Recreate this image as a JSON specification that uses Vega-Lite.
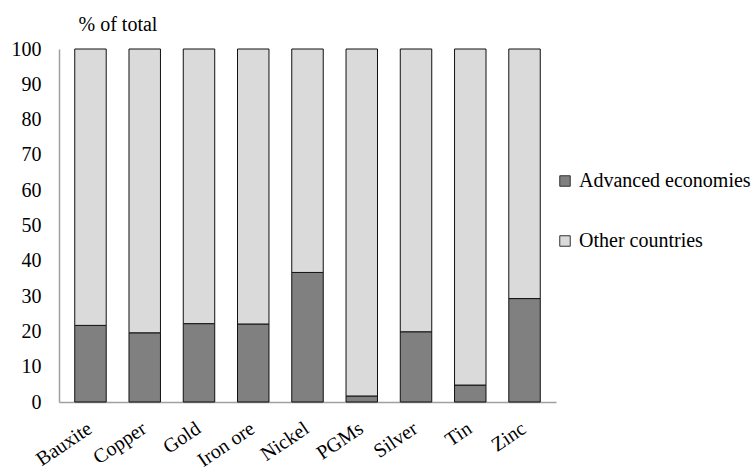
{
  "$schema": "https://vega.github.io/schema/vega-lite/v6.json",
  "width": 497,
  "height": 353,
  "autosize": {"type": "none"},
  "padding": {"left": 59, "top": 49, "right": 200, "bottom": 70},
  "background": "white",
  "data": {
    "values": [
      {"metal": "Bauxite", "group": "Advanced economies", "share": 21.7, "order": 1},
      {"metal": "Bauxite", "group": "Other countries", "share": 78.3, "order": 2},
      {"metal": "Copper", "group": "Advanced economies", "share": 19.6, "order": 1},
      {"metal": "Copper", "group": "Other countries", "share": 80.4, "order": 2},
      {"metal": "Gold", "group": "Advanced economies", "share": 22.2, "order": 1},
      {"metal": "Gold", "group": "Other countries", "share": 77.8, "order": 2},
      {"metal": "Iron ore", "group": "Advanced economies", "share": 22.1, "order": 1},
      {"metal": "Iron ore", "group": "Other countries", "share": 77.9, "order": 2},
      {"metal": "Nickel", "group": "Advanced economies", "share": 36.7, "order": 1},
      {"metal": "Nickel", "group": "Other countries", "share": 63.3, "order": 2},
      {"metal": "PGMs", "group": "Advanced economies", "share": 1.7, "order": 1},
      {"metal": "PGMs", "group": "Other countries", "share": 98.3, "order": 2},
      {"metal": "Silver", "group": "Advanced economies", "share": 19.9, "order": 1},
      {"metal": "Silver", "group": "Other countries", "share": 80.1, "order": 2},
      {"metal": "Tin", "group": "Advanced economies", "share": 4.8, "order": 1},
      {"metal": "Tin", "group": "Other countries", "share": 95.2, "order": 2},
      {"metal": "Zinc", "group": "Advanced economies", "share": 29.3, "order": 1},
      {"metal": "Zinc", "group": "Other countries", "share": 70.7, "order": 2}
    ]
  },
  "mark": {"type": "bar", "stroke": "#111111", "strokeWidth": 1},
  "encoding": {
    "x": {
      "field": "metal",
      "type": "nominal",
      "sort": null,
      "scale": {"paddingInner": 0.42, "paddingOuter": 0.29},
      "axis": {
        "title": null,
        "labelAngle": -34,
        "labelFont": "Liberation Serif",
        "labelFontSize": 20,
        "labelColor": "#000000",
        "labelPadding": 16,
        "labelOffset": -6,
        "ticks": false,
        "domainColor": "#a0a0a0",
        "domainWidth": 1.5
      }
    },
    "y": {
      "field": "share",
      "type": "quantitative",
      "stack": "zero",
      "scale": {"domain": [0, 100], "nice": false},
      "axis": {
        "title": "% of total",
        "titleAngle": 0,
        "titleAlign": "left",
        "titleBaseline": "alphabetic",
        "titleX": 19,
        "titleY": -19,
        "titleFont": "Liberation Serif",
        "titleFontSize": 20,
        "titleFontWeight": "normal",
        "titleColor": "#000000",
        "values": [0, 10, 20, 30, 40, 50, 60, 70, 80, 90, 100],
        "labelFont": "Liberation Serif",
        "labelFontSize": 20,
        "labelColor": "#000000",
        "labelPadding": 18,
        "ticks": false,
        "grid": false,
        "domainColor": "#a0a0a0",
        "domainWidth": 1.5
      }
    },
    "color": {
      "field": "group",
      "type": "nominal",
      "scale": {
        "domain": ["Advanced economies", "Other countries"],
        "range": ["#808080", "#dadada"]
      },
      "legend": {
        "title": null,
        "orient": "none",
        "legendX": 496,
        "legendY": 122,
        "symbolType": "square",
        "symbolSize": 110,
        "symbolStrokeColor": "#333333",
        "symbolStrokeWidth": 1,
        "labelFont": "Liberation Serif",
        "labelFontSize": 20,
        "labelLimit": 300,
        "labelColor": "#000000",
        "labelOffset": 4,
        "rowPadding": 40
      }
    },
    "order": {"field": "order", "type": "quantitative"}
  },
  "config": {"view": {"stroke": null}}
}
